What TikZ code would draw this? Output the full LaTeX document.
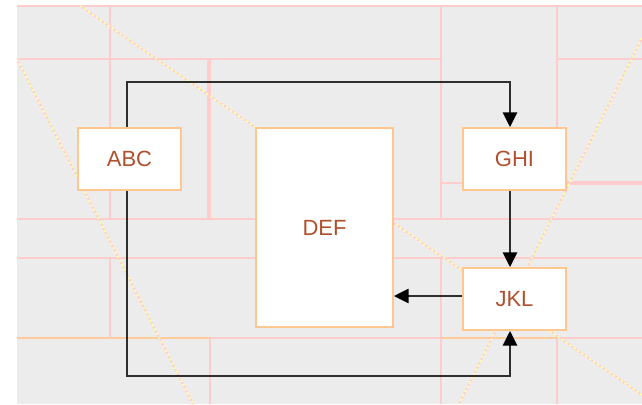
\documentclass[tikz,border=0pt]{standalone}
\usepackage{fontspec}
\setmainfont{Liberation Sans}
\usepackage{xcolor}
\usetikzlibrary{arrows.meta}
\definecolor{bggray}{HTML}{ECECEC}
\definecolor{guidepink}{HTML}{FFCCCC}
\definecolor{guideorange}{HTML}{FFCC99}
\definecolor{guideyellow}{HTML}{FFFFB0}
\definecolor{boxedge}{HTML}{FFC690}
\definecolor{boxtext}{HTML}{B0502D}
\definecolor{wiregray}{HTML}{2E2E2E}

\begin{document}
\begin{tikzpicture}[x=0.75pt,y=-0.75pt,
  guide/.style={guidepink, line width=1.3pt},
  guidethick/.style={guidepink, line width=2.4pt},
  guideor/.style={guideorange, line width=1.3pt},
  slant/.style={guideyellow, line width=1.3pt, dash pattern=on 1.8pt off 1.8pt},
  box/.style={draw=boxedge, fill=white, line width=1.3pt, inner sep=0pt,
    text=boxtext, font=\fontsize{16.5}{20}\selectfont},
  smallbox/.style={box, minimum width=77.25pt, minimum height=46.5pt},
  wire/.style={wiregray, line width=2pt, -{Triangle[length=11pt,width=10.5pt,black]}}]
\useasboundingbox (0,0) rectangle (642,404);
% Background
\fill[bggray] (17,5) rectangle (642,404);
% Guide lines
\draw[guide] (17,6) -- (642,6);
\draw[guide] (17,59) -- (441,59);
\draw[guide] (557,59) -- (642,59);
\draw[guide] (441,183) -- (463,183);
\draw[guidethick] (566,183) -- (642,183);
\draw[guide] (17,219) -- (642,219);
\draw[guide] (17,258) -- (642,258);
\draw[guide] (17,338) -- (642,338);
\draw[guideor] (17,338) -- (210,338);
\draw[guideor] (441,338) -- (557,338);
\draw[guide] (110,6) -- (110,219);
\draw[guide] (110,258) -- (110,338);
\draw[guidethick] (209,59) -- (209,219);
\draw[guide] (210,338) -- (210,404);
\draw[guide] (441,6) -- (441,219);
\draw[guide] (441,258) -- (441,404);
\draw[guide] (557,6) -- (557,128);
\draw[guide] (557,338) -- (557,404);
% Slanted guides
\begin{scope}
\clip (17,5) rectangle (642,404);
\foreach \a/\b in {{(80,6)}/{(642,395)}, {(17,59)}/{(193,404)}, {(642,38)}/{(459,404)}} {
  \draw[guide] \a -- \b;
  \draw[slant] \a -- \b;
}
\end{scope}
% Boxes
\node[smallbox] (abc) at (129.5,159) {ABC};
\node[box, minimum width=102.75pt, minimum height=149.25pt] (def) at (324.5,227.5) {DEF};
\node[smallbox] (ghi) at (514.5,159) {GHI};
\node[smallbox] (jkl) at (514.5,299) {JKL};
% Arrows
\coordinate (lcol) at (127,0);
\coordinate (rcol) at (510,0);
\coordinate (toprow) at (0,82);
\coordinate (botrow) at (0,376);
\coordinate (midrow) at (0,296);
\draw[wire] (abc.north -| lcol) -- (lcol |- toprow) -- (rcol |- toprow) -- (ghi.north -| rcol);
\draw[wire] (ghi.south -| rcol) -- (jkl.north -| rcol);
\draw[wire] (jkl.west |- midrow) -- (def.east |- midrow);
\draw[wire] (abc.south -| lcol) -- (lcol |- botrow) -- (rcol |- botrow) -- (jkl.south -| rcol);
\end{tikzpicture}
\end{document}
